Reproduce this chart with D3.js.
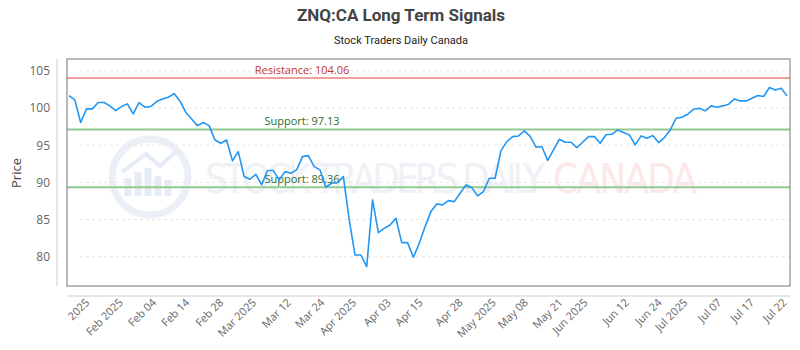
<!DOCTYPE html>
<html>
<head>
<meta charset="utf-8">
<script src="https://cdn.jsdelivr.net/npm/d3@7"></script>
<style>
	body { margin: 0; background: #fff; }
	text { font-family: "Open Sans", "Noto Sans", sans-serif; }
</style>
</head>
<body>
<script>
// price series, one value per point
var prices = [101.68, 101.1, 98.05, 99.89, 99.89, 100.74, 100.74, 100.29, 99.66, 100.2,
	100.56, 99.21, 100.74, 100.11, 100.2, 100.87, 101.23, 101.46, 101.95, 100.96,
	99.44, 98.54, 97.64, 98.05, 97.64, 95.71, 95.26, 95.71, 92.89, 94.14,
	90.78, 90.42, 91.09, 89.66, 91.59, 91.59, 90.33, 91.45, 91.23, 91.68,
	93.47, 93.6, 92.12, 91.68, 89.35, 89.88, 89.97, 90.78, 85.0, 80.23,
	80.23, 78.66, 87.64, 83.24, 83.82, 84.27, 85.17, 81.9, 81.9, 79.92,
	81.8, 84.05, 86.07, 87.1, 86.97, 87.55, 87.41, 88.54, 89.66, 89.3,
	88.18, 88.76, 90.56, 90.56, 94.27, 95.49, 96.16, 96.25, 96.92, 96.2,
	94.73, 94.82, 92.95, 94.37, 95.8, 95.4, 95.4, 94.68, 95.4, 96.16,
	96.16, 95.26, 96.4, 96.47, 97.06, 96.7, 96.39, 95.04, 96.25, 95.94,
	96.3, 95.36, 96.03, 97.06, 98.63, 98.76, 99.17, 99.84, 99.98, 99.62,
	100.29, 100.11, 100.29, 100.52, 101.23, 100.96, 100.96, 101.32, 101.68, 101.55,
	102.76, 102.44, 102.67, 101.64];

// x-axis labels and where they sit (in point index units)
var tickLabels = ["2025", "Feb 2025", "Feb 04", "Feb 14", "Feb 28", "Mar 2025", "Mar 12", "Mar 24",
	"Apr 2025", "Apr 03", "Apr 15", "Apr 28", "May 2025", "May 08", "May 21", "Jun 2025",
	"Jun 12", "Jun 24", "Jul 2025", "Jul 07", "Jul 17", "Jul 22"];
var tickPos = [3.65, 9.37, 15.07, 20.77, 26.6, 32.19, 38.18, 43.89, 49.32, 55.3, 60.74,
	67.59, 73.29, 78.77, 84.7, 88.99, 96.06, 101.66, 106.1, 111.93, 117.52, 123.07];

var yTicks = [80, 85, 90, 95, 100, 105];

// signal levels
var levelNames = ["Resistance", "Support", "Support"];
var levelValues = [104.06, 97.13, 89.36];
var levelKinds = ["res", "sup", "sup"];

var width = 800,
	height = 350;

var plot = {left: 67, right: 790, top: 59, bottom: 286};

var svg = d3.select("body")
	.append("svg")
	.attr("width", width)
	.attr("height", height);

var x = d3.scaleLinear()
	.domain([0, prices.length - 1])
	.range([69, 787]);

var y = d3.scaleLinear()
	.domain([76.06, 106.6])
	.range([plot.bottom, plot.top]);

//titles
svg.append("text")
	.attr("x", 401)
	.attr("y", 21)
	.attr("text-anchor", "middle")
	.style("font-family", "Roboto, sans-serif")
	.style("font-weight", "bold")
	.style("font-size", "17px")
	.attr("fill", "#444")
	.text("ZNQ:CA Long Term Signals");

svg.append("text")
	.attr("x", 401)
	.attr("y", 44)
	.attr("text-anchor", "middle")
	.style("font-family", "Roboto, sans-serif")
	.style("font-size", "11px")
	.attr("fill", "#222")
	.text("Stock Traders Daily Canada");

//watermark
var wm = svg.append("g").attr("opacity", 0.9);
wm.append("circle")
	.attr("cx", 150).attr("cy", 177).attr("r", 38)
	.attr("fill", "none")
	.attr("stroke", "#e9eef6")
	.attr("stroke-width", 7);
wm.append("path")
	.attr("d", "M128,196 L128,178 M138,196 L138,172 M148,196 L148,168 M158,196 L158,176 M168,196 L168,180")
	.attr("stroke", "#e3eaf4")
	.attr("stroke-width", 7);
wm.append("path")
	.attr("d", "M122,172 L146,154 L160,166 L178,150")
	.attr("fill", "none")
	.attr("stroke", "#e3eaf4")
	.attr("stroke-width", 4);
wm.append("text")
	.attr("x", 205).attr("y", 193)
	.attr("textLength", 340)
	.style("font-family", "'DejaVu Sans Condensed', 'Liberation Sans Narrow', Roboto, sans-serif")
	.style("font-size", "40px")
	.attr("fill", "#edf0f5")
	.text("STOCK TRADERS DAILY");
wm.append("text")
	.attr("x", 553).attr("y", 193)
	.attr("textLength", 144)
	.style("font-family", "'DejaVu Sans Condensed', 'Liberation Sans Narrow', Roboto, sans-serif")
	.style("font-size", "40px")
	.attr("fill", "#fde6e6")
	.text("CANADA");

//grid lines
svg.selectAll(".grid")
	.data(yTicks)
	.enter()
	.append("line")
	.attr("class", "grid")
	.attr("x1", 80)
	.attr("x2", plot.right)
	.attr("y1", function(d){ return y(d); })
	.attr("y2", function(d){ return y(d); })
	.attr("stroke", "#e6e6e6")
	.attr("stroke-dasharray", "3,3");

//y axis
var yAxis = svg.append("g")
	.attr("transform", "translate(57,0)")
	.call(d3.axisLeft(y).tickValues(yTicks).tickSize(0).tickPadding(7));
yAxis.select(".domain")
	.attr("stroke", "#ccc")
	.attr("d", "M0," + plot.top + "V" + plot.bottom);
yAxis.selectAll("text")
	.style("font-size", "12px")
	.attr("fill", "#666");

svg.append("text")
	.attr("transform", "translate(21,173) rotate(-90)")
	.attr("text-anchor", "middle")
	.style("font-size", "13px")
	.attr("fill", "#444")
	.text("Price");

//x axis
var xAxis = svg.append("g")
	.attr("transform", "translate(0,296)")
	.call(d3.axisBottom(x)
		.tickValues(tickPos)
		.tickFormat(function(d, i){ return tickLabels[i]; })
		.tickSize(0));
xAxis.select(".domain")
	.attr("stroke", "#ccc")
	.attr("d", "M" + plot.left + ",0H" + plot.right);
xAxis.selectAll("text")
	.attr("text-anchor", "end")
	.attr("y", 0)
	.attr("dx", "-5.5")
	.attr("dy", "4.7")
	.attr("transform", "rotate(-45)")
	.style("font-size", "11px")
	.attr("fill", "#666");

//signal lines
var levels = svg.selectAll(".level")
	.data(levelValues)
	.enter()
	.append("g")
	.attr("class", "level");

levels.append("line")
	.attr("x1", plot.left)
	.attr("x2", plot.right)
	.attr("y1", function(d){ return y(d); })
	.attr("y2", function(d){ return y(d); })
	.attr("stroke", function(d, i){ return levelKinds[i] == "res" ? "#f0a09a" : "#92c992"; })
	.attr("stroke-width", 2);

levels.append("text")
	.attr("x", 302)
	.attr("y", function(d){ return y(d) - 4; })
	.attr("text-anchor", "middle")
	.style("font-size", "11px")
	.attr("fill", function(d, i){ return levelKinds[i] == "res" ? "#c0392b" : "#2f6b2f"; })
	.text(function(d, i){ return levelNames[i] + ": " + d.toFixed(2); });

//price line
var line = d3.line()
	.x(function(d, i){ return x(i); })
	.y(function(d){ return y(d); });

svg.append("path")
	.datum(prices)
	.attr("fill", "none")
	.attr("stroke", "#2196f3")
	.attr("stroke-width", 1.6)
	.attr("stroke-linejoin", "round")
	.attr("d", line);

//plot frame
svg.append("rect")
	.attr("x", plot.left)
	.attr("y", plot.top)
	.attr("width", plot.right - plot.left)
	.attr("height", plot.bottom - plot.top)
	.attr("fill", "none")
	.attr("stroke", "#777")
	.attr("stroke-width", 1);
</script>
</body>
</html>
